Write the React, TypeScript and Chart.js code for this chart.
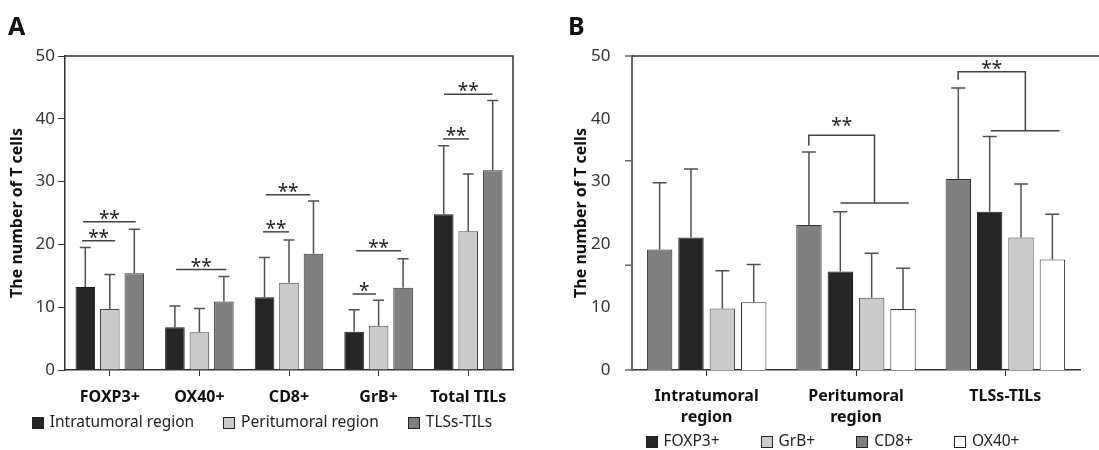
import React, { useEffect, useRef } from "react";
import { Chart, registerables } from "chart.js";

Chart.register(...registerables);

const FONT = "'Noto Sans', 'Open Sans', sans-serif";

// ---------- Panel A data ----------
const markersA = ["FOXP3+", "OX40+", "CD8+", "GrB+", "Total TILs"];
const regionNamesA = ["Intratumoral region", "Peritumoral region", "TLSs-TILs"];
const intraMeanA = [13.2, 6.8, 11.6, 6.1, 24.8];
const intraErrA = [19.5, 10.2, 17.9, 9.6, 35.7];
const periMeanA = [9.7, 6.0, 13.9, 7.05, 22.1];
const periErrA = [15.2, 9.8, 20.7, 11.1, 31.2];
const tlsMeanA = [15.4, 10.9, 18.5, 13.1, 31.8];
const tlsErrA = [22.4, 14.9, 26.9, 17.7, 42.9];
const legendOrderA = [0, 1, 2];
// significance lines: [from category, to category, value, label]
const sigLinesA: [number, number, number, string][] = [
  [-0.31, 0.06, 20.6, "**"],
  [-0.3, 0.29, 23.6, "**"],
  [0.74, 1.3, 16.0, "**"],
  [1.71, 2.0, 22.0, "**"],
  [1.74, 2.24, 27.9, "**"],
  [2.71, 2.97, 12.1, "*"],
  [2.75, 3.25, 19.0, "**"],
  [3.72, 4.01, 36.8, "**"],
  [3.73, 4.27, 43.9, "**"],
];

// ---------- Panel B data ----------
const regionsB = [["Intratumoral", "region"], ["Peritumoral", "region"], ["TLSs-TILs"]];
const markerNamesB = ["CD8+", "FOXP3+", "GrB+", "OX40+"];
const legendOrderB = [1, 2, 0, 3];
const cd8MeanB = [19.2, 23.1, 30.4];
const cd8ErrB = [29.8, 34.7, 44.9];
const foxp3MeanB = [21.1, 15.7, 25.2];
const foxp3ErrB = [32.0, 25.2, 37.2];
const grbMeanB = [9.8, 11.5, 21.1];
const grbErrB = [15.8, 18.6, 29.6];
const ox40MeanB = [10.8, 9.7, 17.6];
const ox40ErrB = [16.8, 16.2, 24.8];
const yTickMarksB = [0, 50 / 3, 100 / 3, 50];
// brackets: left leg x, left leg bottom, top value, right leg x, right leg bottom, sub-line from, sub-line to, label value, label
const bracketsB: [number, number, number, number, number, number, number, number, string][] = [
  [0.684, 35.7, 37.4, 1.124, 26.6, 0.896, 1.353, 39.5, "**"],
  [1.684, 46.2, 47.5, 2.134, 38.1, 1.902, 2.363, 48.6, "**"],
];

const DARK = "#262626";
const LIGHT = "#cbcbcb";
const MID = "#7f7f7f";
const WHITE = "#ffffff";
const LINE = "#333333";
const ERR = "#505050";
const STAR_FONT = `19px ${FONT}`;

const errorBarPlugin = {
  id: "errbars",
  afterDatasetsDraw(chart: any, _args: any, opts: any) {
    const { ctx } = chart;
    const y = chart.scales.y;
    const cap = opts.cap || 10;
    chart.data.datasets.forEach((ds: any, i: number) => {
      const meta = chart.getDatasetMeta(i);
      meta.data.forEach((bar: any, j: number) => {
        const top = y.getPixelForValue(ds.errorTops[j]);
        ctx.save();
        ctx.strokeStyle = ERR;
        ctx.lineWidth = 1.5;
        ctx.beginPath();
        ctx.moveTo(bar.x, bar.y);
        ctx.lineTo(bar.x, top);
        ctx.moveTo(bar.x - cap / 2, top);
        ctx.lineTo(bar.x + cap / 2, top);
        ctx.stroke();
        ctx.restore();
      });
    });
  },
};

const sigPluginA = {
  id: "sigA",
  afterDatasetsDraw(chart: any) {
    const { ctx } = chart;
    const x = chart.scales.x;
    const y = chart.scales.y;
    sigLinesA.forEach(([a, b, v, label]) => {
      const x1 = x.getPixelForValue(a);
      const x2 = x.getPixelForValue(b);
      const py = y.getPixelForValue(v);
      ctx.save();
      ctx.strokeStyle = "#444";
      ctx.lineWidth = 1.5;
      ctx.beginPath();
      ctx.moveTo(x1, py);
      ctx.lineTo(x2, py);
      ctx.stroke();
      ctx.fillStyle = "#222";
      ctx.font = STAR_FONT;
      ctx.textAlign = "center";
      ctx.textBaseline = "alphabetic";
      ctx.fillText(label, (x1 + x2) / 2, py + 3);
      ctx.restore();
    });
  },
};

const bracketPluginB = {
  id: "bracketB",
  afterDatasetsDraw(chart: any) {
    const { ctx } = chart;
    const x = chart.scales.x;
    const y = chart.scales.y;
    bracketsB.forEach(([lx, lb, tv, rx, rb, s1, s2, lv, label]) => {
      const pLx = x.getPixelForValue(lx);
      const pRx = x.getPixelForValue(rx);
      const pTop = y.getPixelForValue(tv);
      ctx.save();
      ctx.strokeStyle = "#444";
      ctx.lineWidth = 1.5;
      ctx.beginPath();
      ctx.moveTo(pLx, y.getPixelForValue(lb));
      ctx.lineTo(pLx, pTop);
      ctx.lineTo(pRx, pTop);
      ctx.lineTo(pRx, y.getPixelForValue(rb));
      ctx.moveTo(x.getPixelForValue(s1), y.getPixelForValue(rb));
      ctx.lineTo(x.getPixelForValue(s2), y.getPixelForValue(rb));
      ctx.stroke();
      ctx.fillStyle = "#222";
      ctx.font = STAR_FONT;
      ctx.textAlign = "center";
      ctx.textBaseline = "alphabetic";
      ctx.fillText(label, (pLx + pRx) / 2, y.getPixelForValue(lv) + 10);
      ctx.restore();
    });
  },
};

const legendPlugin = {
  id: "boxLegend",
  afterDraw(chart: any, _args: any, opts: any) {
    const { ctx } = chart;
    const box = opts.box;
    ctx.save();
    ctx.font = `${opts.size}px ${FONT}`;
    const items = opts.order.map((i: number) => chart.data.datasets[i]);
    const widths = items.map((ds: any) => box + opts.textGap + ctx.measureText(ds.label).width);
    const total = widths.reduce((a: number, b: number) => a + b, 0) + opts.gap * (items.length - 1);
    let x = opts.cx - total / 2;
    items.forEach((ds: any, k: number) => {
      const top = Math.round(opts.cy - box / 2);
      const left = Math.round(x);
      ctx.fillStyle = ds.backgroundColor;
      ctx.fillRect(left, top, box, box);
      ctx.strokeStyle = "#222";
      ctx.lineWidth = 1;
      ctx.strokeRect(left + 0.5, top + 0.5, box - 1, box - 1);
      ctx.fillStyle = "#222";
      ctx.textAlign = "left";
      ctx.textBaseline = "middle";
      ctx.fillText(ds.label, x + box + opts.textGap, opts.cy);
      x += widths[k] + opts.gap;
    });
    ctx.restore();
  },
};

const framePlugin = {
  id: "frame",
  afterDraw(chart: any, _args: any, opts: any) {
    const { ctx, chartArea } = chart;
    ctx.save();
    ctx.strokeStyle = LINE;
    ctx.lineWidth = 1.5;
    ctx.beginPath();
    if (opts.box) {
      ctx.moveTo(chartArea.left, chartArea.top);
      ctx.lineTo(chartArea.right, chartArea.top);
      ctx.lineTo(chartArea.right, chartArea.bottom);
    } else {
      ctx.moveTo(chartArea.left, chartArea.top);
      ctx.lineTo(chart.width, chartArea.top);
    }
    ctx.stroke();
    if (opts.tickMarks) {
      const y = chart.scales.y;
      ctx.strokeStyle = "#666";
      ctx.beginPath();
      opts.tickMarks.forEach((v: number) => {
        const py = y.getPixelForValue(v);
        ctx.moveTo(chartArea.left - 7, py);
        ctx.lineTo(chartArea.left, py);
      });
      ctx.stroke();
    }
    if (opts.letter) {
      ctx.fillStyle = "#111";
      ctx.font = `bold 25px ${FONT}`;
      ctx.textAlign = "left";
      ctx.textBaseline = "alphabetic";
      ctx.fillText(opts.letter, opts.letterX, 35);
    }
    ctx.restore();
  },
};

function makeConfigA(): any {
  return {
    type: "bar",
    data: {
      labels: markersA,
      datasets: [
        { label: regionNamesA[0], data: intraMeanA, errorTops: intraErrA, backgroundColor: DARK, borderColor: "#1a1a1a", borderWidth: 1 },
        { label: regionNamesA[1], data: periMeanA, errorTops: periErrA, backgroundColor: LIGHT, borderColor: "#444", borderWidth: 1 },
        { label: regionNamesA[2], data: tlsMeanA, errorTops: tlsErrA, backgroundColor: MID, borderColor: "#333", borderWidth: 1 },
      ],
    },
    options: {
      animation: false,
      responsive: false,
      maintainAspectRatio: false,
      devicePixelRatio: 1,
      layout: { padding: { top: 56, left: 11, right: 37, bottom: 0 } },
      datasets: { bar: { categoryPercentage: 0.82, barPercentage: 0.8 } },
      scales: {
        x: {
          grid: { display: true, drawOnChartArea: false, drawTicks: true, tickLength: 6, color: LINE, offset: false },
          border: { display: true, color: LINE, width: 1.5 },
          ticks: { color: "#111", padding: 11, autoSkip: false, maxRotation: 0, font: { family: FONT, size: 16, weight: "bold", lineHeight: 1.3 } },
          afterFit: (s: any) => { s.height = 80; },
        },
        y: {
          min: 0,
          max: 50,
          ticks: { stepSize: 10, color: "#333", padding: 3, font: { family: FONT, size: 17 } },
          grid: { display: true, drawOnChartArea: false, drawTicks: true, tickLength: 7, color: LINE },
          border: { display: true, color: LINE, width: 1.5 },
          title: { display: true, text: "The number of T cells", color: "#111", font: { family: FONT, size: 16, weight: "bold", lineHeight: 1.2 }, padding: { top: -3.6, bottom: 0 } },
          afterFit: (s: any) => { s.width = 54; },
        },
      },
      plugins: {
        legend: { display: false },
        tooltip: { enabled: false },
        errbars: { cap: 11 },
        frame: { box: true, letter: "A", letterX: 8 },
        boxLegend: { order: legendOrderA, cx: 262, cy: 423, box: 12, textGap: 6, gap: 29, size: 15.5 },
      },
    },
    plugins: [errorBarPlugin, sigPluginA, framePlugin, legendPlugin],
  };
}

function makeConfigB(): any {
  return {
    type: "bar",
    data: {
      labels: regionsB,
      datasets: [
        { label: markerNamesB[0], data: cd8MeanB, errorTops: cd8ErrB, backgroundColor: MID, borderColor: "#333", borderWidth: 1 },
        { label: markerNamesB[1], data: foxp3MeanB, errorTops: foxp3ErrB, backgroundColor: DARK, borderColor: "#1a1a1a", borderWidth: 1 },
        { label: markerNamesB[2], data: grbMeanB, errorTops: grbErrB, backgroundColor: LIGHT, borderColor: "#444", borderWidth: 1 },
        { label: markerNamesB[3], data: ox40MeanB, errorTops: ox40ErrB, backgroundColor: WHITE, borderColor: "#333", borderWidth: 1 },
      ],
    },
    options: {
      animation: false,
      responsive: false,
      maintainAspectRatio: false,
      devicePixelRatio: 1,
      layout: { padding: { top: 56, left: 25, right: 19, bottom: 0 } },
      datasets: { bar: { categoryPercentage: 0.84, barPercentage: 0.81 } },
      scales: {
        x: {
          grid: { display: true, drawOnChartArea: false, drawTicks: true, tickLength: 6, color: LINE, offset: false },
          border: { display: true, color: LINE, width: 1.5 },
          ticks: { color: "#111", padding: 10.5, autoSkip: false, maxRotation: 0, font: { family: FONT, size: 16, weight: "bold", lineHeight: 1.3 } },
          afterFit: (s: any) => { s.height = 80; },
        },
        y: {
          min: 0,
          max: 50,
          ticks: { stepSize: 10, color: "#333", padding: 13.5, font: { family: FONT, size: 17 } },
          grid: { display: false },
          border: { display: true, color: "#666", width: 2 },
          title: { display: true, text: "The number of T cells", color: "#111", font: { family: FONT, size: 16, weight: "bold", lineHeight: 1.2 }, padding: { top: -13.1, bottom: 0 } },
          afterFit: (s: any) => { s.width = 47; },
        },
      },
      plugins: {
        legend: { display: false },
        tooltip: { enabled: false },
        errbars: { cap: 14 },
        frame: { box: false, tickMarks: yTickMarksB, letter: "B", letterX: 8 },
        boxLegend: { order: legendOrderB, cx: 272.5, cy: 442, box: 12, textGap: 6, gap: 41, size: 15.5 },
      },
    },
    plugins: [errorBarPlugin, bracketPluginB, framePlugin, legendPlugin],
  };
}

export default function App() {
  const refA = useRef<HTMLCanvasElement>(null);
  const refB = useRef<HTMLCanvasElement>(null);
  useEffect(() => {
    const a = new Chart(refA.current as HTMLCanvasElement, makeConfigA());
    const b = new Chart(refB.current as HTMLCanvasElement, makeConfigB());
    return () => {
      a.destroy();
      b.destroy();
    };
  }, []);
  return (
    <div style={{ position: "fixed", left: 0, top: 0, width: 1099, height: 450, overflow: "hidden", background: "#fff" }}>
      <canvas ref={refA} width={550} height={450} style={{ position: "absolute", left: 0, top: 0, width: 550, height: 450 }} />
      <canvas ref={refB} width={539} height={450} style={{ position: "absolute", left: 560, top: 0, width: 539, height: 450 }} />
    </div>
  );
}
